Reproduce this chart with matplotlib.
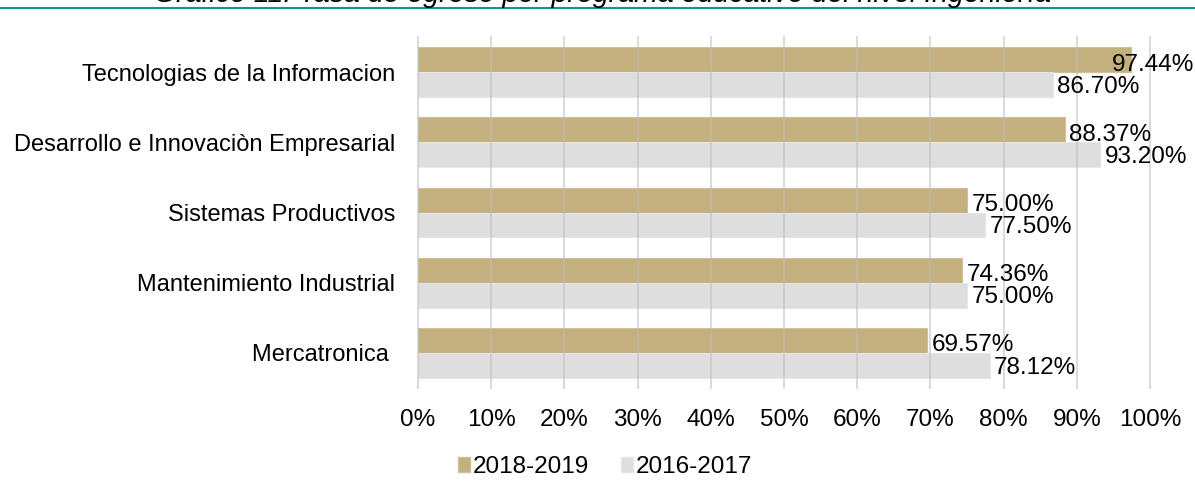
import numpy as np
import matplotlib.pyplot as plt
from matplotlib.patches import Patch

plt.rcParams['font.family'] = ['Liberation Sans', 'DejaVu Sans']

# data
programas = ['Tecnologias de la Informacion', 'Desarrollo e Innovaciòn Empresarial',
             'Sistemas Productivos', 'Mantenimiento Industrial', 'Mercatronica ']
tasa_2018_2019 = [97.44, 88.37, 75.00, 74.36, 69.57]
tasa_2016_2017 = [86.70, 93.20, 77.50, 75.00, 78.12]
series_labels = ['2018-2019', '2016-2017']
xticks = [0, 10, 20, 30, 40, 50, 60, 70, 80, 90, 100]

gold = '#C4B07E'
grey = '#DEDEDE'

fig = plt.figure(figsize=(11.95, 4.95), dpi=100)
ax = fig.add_axes([418/1195, 1-388/495, 732/1195, 351/495])

y = np.arange(len(programas))
h = 0.356
ax.barh(y - h/2, tasa_2018_2019, height=h, color=gold, edgecolor='#CFC09A', lw=0.8, zorder=1)
ax.barh(y + h/2, tasa_2016_2017, height=h, color=grey, edgecolor='#E6E6E6', lw=0.8, zorder=1)

# gridlines over bars like the original
for t in xticks:
    ax.axvline(t, color='#BDBDBD', lw=1.3, alpha=0.6, zorder=3, clip_on=False)

for i in range(len(programas)):
    for v, dy in [(tasa_2018_2019[i], -h/2 + 0.07), (tasa_2016_2017[i], h/2 + 0.03)]:
        xpos = min(v + 0.6, 94.8)
        ax.text(xpos, y[i] + dy, '%.2f%%' % v, ha='left', va='center', fontsize=17.5, zorder=4)

ax.set_xlim(0, 100)
ax.set_ylim(len(programas) - 0.5, -0.5)
ax.set_xticks(xticks)
ax.set_xticklabels(['%d%%' % t for t in xticks], fontsize=17.5)
ax.set_yticks(y)
ax.set_yticklabels(programas, fontsize=17)
ax.tick_params(axis='x', length=0, pad=15)
ax.tick_params(axis='y', length=0, pad=16.5)
for s in ax.spines.values():
    s.set_visible(False)

handles = [Patch(facecolor=gold, edgecolor='#CFC09A'), Patch(facecolor=grey, edgecolor='#E6E6E6')]
fig.legend(handles, series_labels, loc='center', bbox_to_anchor=(605/1195, 1-467/495),
           ncol=2, frameon=False, fontsize=17.5, handlelength=0.5, handleheight=0.6,
           handletextpad=0.1, columnspacing=1.3)

# top rule and clipped caption
fig.add_artist(plt.Line2D([0, 1], [1-8/495, 1-8/495], color='#10969A', lw=1.5))
fig.text(603/1195, 1-1.5/495, 'Gráfico 11. Tasa de egreso por programa educativo del nivel Ingeniería',
         ha='center', va='baseline', fontsize=20.5, style='italic')

fig.savefig('out.png', dpi=100)
